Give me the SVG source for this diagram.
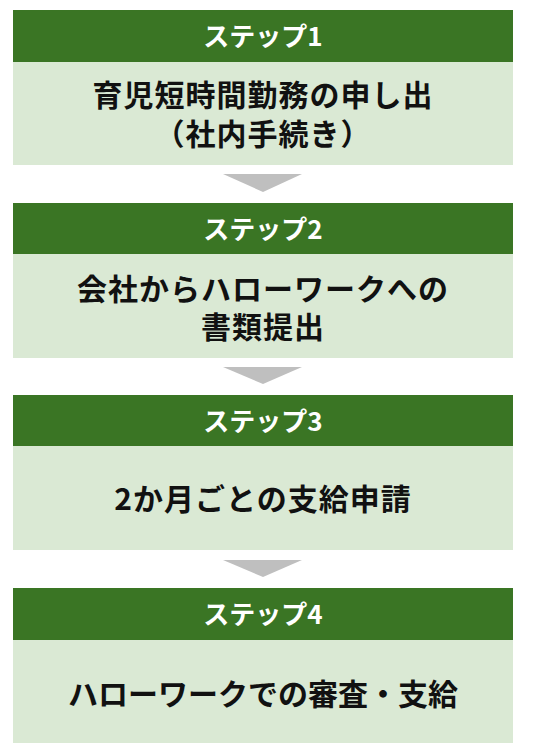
<svg xmlns="http://www.w3.org/2000/svg" width="534" height="753" viewBox="0 0 534 753">
<style>
.hd{fill:#3a7524}
.bd{fill:#dae9d4}
.ht{font-family:"Noto Sans CJK JP","Noto Sans CJK SC",sans-serif;font-weight:bold;font-size:26px;fill:#ffffff;text-anchor:middle}
.bt{font-family:"Noto Sans CJK JP","Noto Sans CJK SC",sans-serif;font-weight:bold;font-size:30px;fill:#111111;text-anchor:middle;letter-spacing:1px}
.ar{fill:#bfbfbf}
</style>
<rect width="534" height="753" fill="#ffffff"/>
<g id="step1">
<rect class="hd" x="13" y="10" width="500" height="52"/>
<rect class="bd" x="13" y="62" width="500" height="103"/>
<text class="ht" x="263" y="46">ステップ1</text>
<text class="bt"><tspan x="263" y="106">育児短時間勤務の申し出</tspan><tspan x="263" y="145">（社内手続き）</tspan></text>
</g>
<g id="step2">
<rect class="hd" x="13" y="203" width="500" height="51"/>
<rect class="bd" x="13" y="254" width="500" height="104"/>
<text class="ht" x="263" y="239">ステップ2</text>
<text class="bt"><tspan x="263" y="300">会社からハローワークへの</tspan><tspan x="263" y="338">書類提出</tspan></text>
</g>
<g id="step3">
<rect class="hd" x="13" y="395" width="500" height="51"/>
<rect class="bd" x="13" y="446" width="500" height="104"/>
<text class="ht" x="263" y="431">ステップ3</text>
<text class="bt" x="263" y="510">2か月ごとの支給申請</text>
</g>
<g id="step4">
<rect class="hd" x="13" y="588" width="500" height="52"/>
<rect class="bd" x="13" y="640" width="500" height="103"/>
<text class="ht" x="263" y="624">ステップ4</text>
<text class="bt" x="263" y="705" style="letter-spacing:0">ハローワークでの審査・支給</text>
</g>
<g id="connectors">
<polygon class="ar" points="223,174 302,174 263,192"/>
<polygon class="ar" points="223,367 302,367 263,384"/>
<polygon class="ar" points="223,560 302,560 263,577"/>
</g>
</svg>
